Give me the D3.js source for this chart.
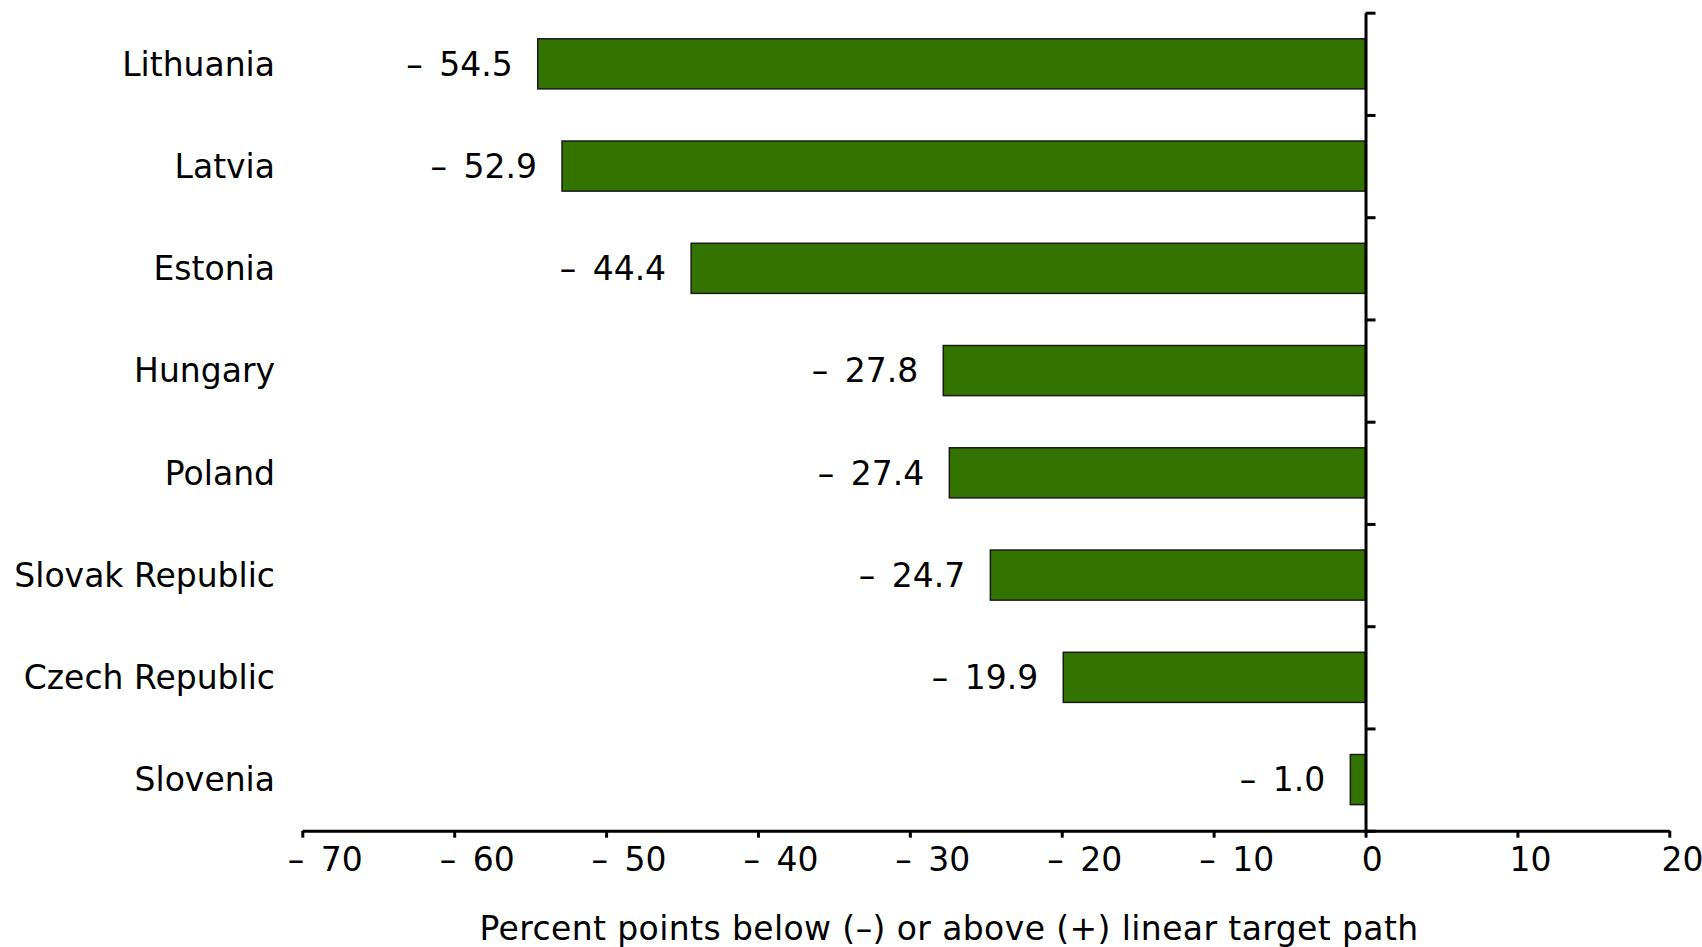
<!DOCTYPE html>
<html>
<head>
<meta charset="utf-8">
<script src="https://cdn.jsdelivr.net/npm/d3@7"></script>
<style>
  html, body { margin: 0; padding: 0; background: #ffffff; }
  svg text { font-family: "DejaVu Sans", Verdana, sans-serif; fill: #000; }
</style>
</head>
<body>
<svg id="chart" width="1702" height="947"></svg>
<script>
const countries = ["Lithuania", "Latvia", "Estonia", "Hungary", "Poland", "Slovak Republic", "Czech Republic", "Slovenia"];
const values = [-54.5, -52.9, -44.4, -27.8, -27.4, -24.7, -19.9, -1.0];
const xTicks = [-70, -60, -50, -40, -30, -20, -10, 0, 10, 20];
const xTitle = "Percent points below (\u2013) or above (+) linear target path";

(function () {
const fmt = v => v < 0 ? "\u2013\u2002" + Math.abs(v).toFixed(1) : v.toFixed(1);
const fmtTick = v => v < 0 ? "\u2013\u2002" + Math.abs(v) : String(v);

const svg = d3.select("#chart");
const mLeft = 302.3, mRight = 1669.3, mTop = 12.7, mBottom = 830.7;
const fontSize = 33;

const x = d3.scaleLinear().domain([-70, 20]).range([mLeft, mRight]);
const y = d3.scaleBand().domain(countries).range([mTop, mBottom]).padding(0);
const step = y.step();
const barFrac = 0.49;

// bars
svg.append("g").selectAll("rect")
  .data(countries)
  .join("rect")
  .attr("x", (c, i) => x(Math.min(0, values[i])))
  .attr("y", c => y(c) + step * (1 - barFrac) / 2)
  .attr("width", (c, i) => Math.abs(x(values[i]) - x(0)))
  .attr("height", step * barFrac)
  .attr("fill", "#337400")
  .attr("stroke", "#1a1a1a")
  .attr("stroke-width", 1.5);

// value labels
svg.append("g").selectAll("text")
  .data(countries)
  .join("text")
  .attr("x", (c, i) => x(Math.min(0, values[i])) - 25)
  .attr("y", c => y(c) + step / 2)
  .attr("dy", "0.36em")
  .attr("text-anchor", "end")
  .style("font-size", fontSize + "px")
  .text((c, i) => fmt(values[i]));

// category labels
svg.append("g").selectAll("text")
  .data(countries)
  .join("text")
  .attr("x", 275)
  .attr("y", c => y(c) + step / 2)
  .attr("dy", "0.36em")
  .attr("text-anchor", "end")
  .style("font-size", fontSize + "px")
  .text(c => c);

// vertical axis at zero with ticks at band boundaries
const yIdx = d3.scaleLinear().domain([0, countries.length]).range([mTop, mBottom]);
const yAxisG = svg.append("g")
  .attr("transform", `translate(${x(0)},0)`)
  .call(d3.axisRight(yIdx).tickValues(d3.range(0, countries.length + 1)).tickFormat("").tickSize(10).tickSizeOuter(0));
yAxisG.select(".domain").attr("stroke", "#000").attr("stroke-width", 3);
yAxisG.selectAll(".tick line").attr("stroke", "#000").attr("stroke-width", 3);

// x axis
const xAxisG = svg.append("g")
  .attr("transform", `translate(0,${mBottom})`)
  .call(d3.axisBottom(x).tickValues(xTicks).tickFormat(fmtTick).tickSize(7).tickSizeOuter(0));
xAxisG.attr("font-family", null).attr("font-size", null);
xAxisG.select(".domain").attr("stroke", "#000").attr("stroke-width", 3);
xAxisG.selectAll(".tick line").attr("stroke", "#000").attr("stroke-width", 3);
xAxisG.selectAll(".tick text")
  .style("font-size", fontSize + "px")
  .attr("fill", "#000")
  .attr("y", 40)
  .attr("dy", null)
  .attr("text-anchor", "start")
  .each(function() {
    const w = this.getComputedTextLength();
    d3.select(this).attr("x", -0.2 * w);
  });

// axis title
svg.append("text")
  .attr("x", 949)
  .attr("y", 940)
  .attr("text-anchor", "middle")
  .style("font-size", fontSize + "px")
  .style("letter-spacing", "0.4px")
  .text(xTitle);
})();
</script>
</body>
</html>
